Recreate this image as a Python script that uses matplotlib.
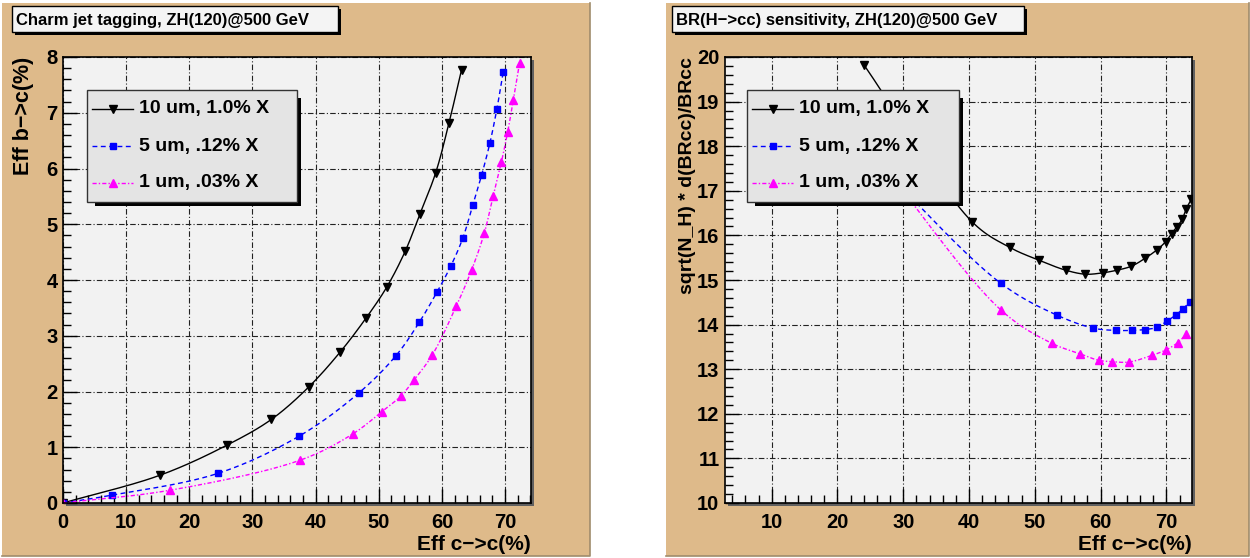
import matplotlib
matplotlib.use("Agg")
import numpy as np
import matplotlib.pyplot as plt
from matplotlib.patches import Rectangle
from matplotlib.lines import Line2D
from matplotlib.ticker import MultipleLocator

# ---------------- data ----------------
legend_labels = ["10 um, 1.0% X", "5 um, .12% X", "1 um, .03% X"]

# left panel: Eff b->c vs Eff c->c
tag_black_x = [0, 15.4, 26.0, 33.0, 38.9, 43.9, 48.0, 51.3, 54.2, 56.5, 59.0, 61.1, 63.1]
tag_black_y = [0, 0.50, 1.04, 1.50, 2.08, 2.71, 3.32, 3.88, 4.52, 5.18, 5.92, 6.81, 7.77]
tag_blue_x = [0, 7.7, 24.5, 37.4, 46.8, 52.7, 56.4, 59.2, 61.4, 63.3, 64.9, 66.3, 67.6, 68.7, 69.7]
tag_blue_y = [0, 0.14, 0.53, 1.20, 1.97, 2.64, 3.24, 3.78, 4.25, 4.75, 5.35, 5.89, 6.46, 7.07, 7.73]
tag_mag_x = [0, 17.0, 37.6, 45.9, 50.5, 53.5, 55.6, 58.5, 62.3, 64.7, 66.7, 68.1, 69.4, 70.4, 71.3, 72.3]
tag_mag_y = [0, 0.23, 0.77, 1.24, 1.64, 1.92, 2.21, 2.66, 3.54, 4.18, 4.84, 5.50, 6.11, 6.65, 7.23, 7.90]

# right panel: BR(H->cc) sensitivity vs Eff c->c
br_black_x = [24.0, 40.5, 46.2, 50.7, 54.7, 57.7, 60.3, 62.5, 64.7, 66.8, 68.6, 69.9, 70.8, 71.6, 72.4, 73.0, 73.8]
br_black_y = [19.83, 16.30, 15.73, 15.44, 15.22, 15.13, 15.16, 15.22, 15.31, 15.49, 15.68, 15.86, 16.04, 16.19, 16.36, 16.59, 16.81]
br_blue_x = [24.0, 44.8, 53.4, 58.9, 62.3, 64.8, 66.8, 68.6, 70.1, 71.4, 72.5, 73.6]
br_blue_y = [17.93, 14.93, 14.21, 13.92, 13.87, 13.87, 13.89, 13.94, 14.08, 14.21, 14.35, 14.51]
br_mag_x = [24.0, 44.9, 52.6, 56.8, 59.7, 61.7, 64.3, 67.8, 69.9, 71.7, 73.0]
br_mag_y = [18.14, 14.32, 13.58, 13.35, 13.20, 13.17, 13.16, 13.31, 13.43, 13.59, 13.78]

left_xticks = [0, 10, 20, 30, 40, 50, 60, 70]
left_yticks = [0, 1, 2, 3, 4, 5, 6, 7, 8]
right_xticks = [10, 20, 30, 40, 50, 60, 70]
right_yticks = [10, 11, 12, 13, 14, 15, 16, 17, 18, 19, 20]

# ---------------- style ----------------
W, H = 1250, 558
FONT = "Liberation Sans"
TAN = "#DEBA8A"
PLOT_BG = "#F2F2F2"
LEG_BG = "#E4E4E4"
styles = [
    dict(color="black", linestyle="-", marker="v", ms=6),
    dict(color="#0000FF", linestyle=(0, (3.5, 2.5)), marker="s", ms=5),
    dict(color="#FF00FF", linestyle=(0, (3, 1.5, 1, 1.5)), marker="^", ms=6),
]

fig = plt.figure(figsize=(W / 100, H / 100), dpi=100)
fig.patch.set_facecolor("white")


def fx(x):
    return x / W


def fy(y):
    return 1 - y / H


def rect_px(x0, y0, x1, y1, **kw):
    r = Rectangle((fx(x0), fy(y1)), (x1 - x0) / W, (y1 - y0) / H,
                  transform=fig.transFigure, **kw)
    fig.add_artist(r)
    return r


def line_px(xs, ys, **kw):
    l = Line2D([fx(x) for x in xs], [fy(y) for y in ys], transform=fig.transFigure, **kw)
    fig.add_artist(l)
    return l


def smooth_path(x, y, xlim, ylim, n=24):
    """Centripetal Catmull-Rom curve through the points (drawn line only)."""
    sx = (np.asarray(x, float) - xlim[0]) / (xlim[1] - xlim[0])
    sy = (np.asarray(y, float) - ylim[0]) / (ylim[1] - ylim[0])
    P = np.column_stack([sx, sy])
    P = np.vstack([2 * P[0] - P[1], P, 2 * P[-1] - P[-2]])
    out = []
    for i in range(1, len(P) - 2):
        p0, p1, p2, p3 = P[i - 1], P[i], P[i + 1], P[i + 2]
        t0 = 0.0
        t1 = t0 + max(np.linalg.norm(p1 - p0), 1e-9) ** 0.5
        t2 = t1 + max(np.linalg.norm(p2 - p1), 1e-9) ** 0.5
        t3 = t2 + max(np.linalg.norm(p3 - p2), 1e-9) ** 0.5
        t = np.linspace(t1, t2, n)[:, None]
        A1 = (t1 - t) / (t1 - t0) * p0 + (t - t0) / (t1 - t0) * p1
        A2 = (t2 - t) / (t2 - t1) * p1 + (t - t1) / (t2 - t1) * p2
        A3 = (t3 - t) / (t3 - t2) * p2 + (t - t2) / (t3 - t2) * p3
        B1 = (t2 - t) / (t2 - t0) * A1 + (t - t0) / (t2 - t0) * A2
        B2 = (t3 - t) / (t3 - t1) * A2 + (t - t1) / (t3 - t1) * A3
        C = (t2 - t) / (t2 - t1) * B1 + (t - t1) / (t2 - t1) * B2
        out.append(C if i == 1 else C[1:])
    C = np.vstack(out)
    return (C[:, 0] * (xlim[1] - xlim[0]) + xlim[0],
            C[:, 1] * (ylim[1] - ylim[0]) + ylim[0])


# pads
for (x0, x1) in [(2, 590), (666, 1249)]:
    rect_px(x0, 3, x1, 556, facecolor=TAN, edgecolor="none", zorder=-10)
    line_px([x1, x1, x0], [3, 556, 556], color="#A08C6C", lw=1.2, zorder=-9)

# frame shadows
for (x0, x1) in [(63, 531), (725, 1192)]:
    rect_px(x0 + 3, 57 + 3, x1 + 3, 503 + 3, facecolor="#606060", edgecolor="none", zorder=-5)

ax1 = fig.add_axes([fx(63), fy(503), 468 / W, 446 / H])
ax2 = fig.add_axes([fx(725), fy(503), 467 / W, 446 / H])

LXLIM, LYLIM = (0, 74.1), (0, 8)
RXLIM, RYLIM = (2.9, 73.9), (10, 20)


def setup(ax, xlim, ylim, xt, yt, yminor):
    ax.set_facecolor(PLOT_BG)
    ax.set_xlim(*xlim)
    ax.set_ylim(*ylim)
    ax.set_xticks(xt)
    ax.set_yticks(yt)
    ax.xaxis.set_minor_locator(MultipleLocator(2))
    ax.yaxis.set_minor_locator(MultipleLocator(yminor))
    ax.tick_params(which="both", direction="in", top=False, right=False, width=1, color="black")
    ax.tick_params(which="major", length=10)
    ax.tick_params(which="minor", length=6)
    ax.tick_params(axis="x", pad=7)
    ax.tick_params(axis="y", pad=4)
    for lab in ax.get_xticklabels() + ax.get_yticklabels():
        lab.set_fontfamily(FONT)
        lab.set_fontweight("bold")
        lab.set_fontsize(14.5)
    ax.grid(True, which="major", color="#222222", linestyle=(0, (5, 2, 1, 2)), linewidth=0.8)
    for s in ax.spines.values():
        s.set_color("black")
        s.set_linewidth(1.2)


setup(ax1, LXLIM, LYLIM, left_xticks, left_yticks, 0.2)
setup(ax2, RXLIM, RYLIM, right_xticks, right_yticks, 0.2)


def draw(ax, st, x, y, xlim, ylim):
    sx, sy = smooth_path(x, y, xlim, ylim)
    ax.plot(sx, sy, color=st["color"], linestyle=st["linestyle"], lw=1.0)
    ax.plot(x, y, linestyle="none", marker=st["marker"], ms=st["ms"],
            mfc=st["color"], mec=st["color"])


for st, (x, y) in zip(styles, [(tag_black_x, tag_black_y), (tag_blue_x, tag_blue_y), (tag_mag_x, tag_mag_y)]):
    draw(ax1, st, x, y, LXLIM, LYLIM)
for st, (x, y) in zip(styles, [(br_black_x, br_black_y), (br_blue_x, br_blue_y), (br_mag_x, br_mag_y)]):
    draw(ax2, st, x, y, RXLIM, RYLIM)

# titles
for (x0, x1, txt) in [(12, 338, "Charm jet tagging, ZH(120)@500 GeV"),
                      (672, 1024, "BR(H\u2212>cc) sensitivity, ZH(120)@500 GeV")]:
    rect_px(x0 + 3, 9, x1 + 3, 35, facecolor="black", edgecolor="none", zorder=4)
    rect_px(x0, 6, x1, 32, facecolor="#F4F4F4", edgecolor="black", lw=1, zorder=5)
    fig.text(fx(x0 + 4), fy(20), txt, fontsize=12, fontweight="bold", family=FONT,
             ha="left", va="center", zorder=6)

# axis titles
fig.text(fx(531), fy(544), "Eff c\u2212>c(%)", fontsize=15, fontweight="bold", family=FONT,
         ha="right", va="center")
fig.text(fx(1192), fy(544), "Eff c\u2212>c(%)", fontsize=15, fontweight="bold", family=FONT,
         ha="right", va="center")
fig.text(fx(24), fy(57), "Eff b\u2212>c(%)", fontsize=15.5, fontweight="bold", family=FONT,
         ha="center", va="top", rotation=90)
fig.text(fx(688), fy(57), "sqrt(N_H) * d(BRcc)/BRcc", fontsize=14, fontweight="bold", family=FONT,
         ha="center", va="top", rotation=90)

# legends
for (bx0, bx1, by0, by1) in [(87, 297, 90, 202), (747, 959, 90, 202)]:
    rect_px(bx0 + 8, by0 + 8, bx1 + 4, by1 + 4, facecolor="black", edgecolor="none", zorder=7)
    rect_px(bx0, by0, bx1, by1, facecolor=LEG_BG, edgecolor="#333333", lw=1, zorder=8)
    rows = [by0 + 19, by0 + 56, by0 + 93]
    for st, lab, ry in zip(styles, legend_labels, rows):
        line_px([bx0 + 5, bx0 + 46], [ry, ry], color=st["color"], linestyle=st["linestyle"], lw=1.0, zorder=9)
        line_px([bx0 + 25.5], [ry], color=st["color"], marker=st["marker"], ms=st["ms"] - 0.5,
                mfc=st["color"], mec=st["color"], linestyle="none", zorder=10)
        fig.text(fx(bx0 + 52), fy(ry), lab, fontsize=14, fontweight="bold", family=FONT,
                 ha="left", va="center", zorder=10)

fig.savefig("out.png", dpi=100)
